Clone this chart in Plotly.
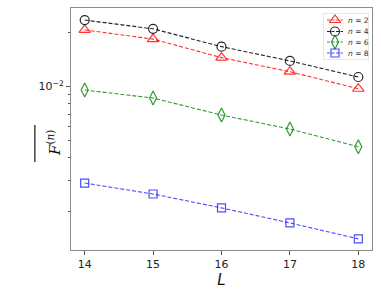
import plotly.graph_objects as go

L = [14, 15, 16, 17, 18]
f_n2 = [0.0207, 0.0184, 0.0145, 0.0121, 0.00972]
f_n4 = [0.0235, 0.0210, 0.0167, 0.0139, 0.0113]
f_n6 = [0.00956, 0.00862, 0.00693, 0.00579, 0.00461]
f_n8 = [0.00289, 0.00251, 0.00210, 0.00173, 0.00141]

series = [
    ("<i>n</i> = 2", f_n2, "rgba(255,0,0,0.8)", "triangle-up-open", 10),
    ("<i>n</i> = 4", f_n4, "rgba(0,0,0,0.85)", "circle-open", 9),
    ("<i>n</i> = 6", f_n6, "rgba(0,128,0,0.8)", "diamond-tall-open", 10),
    ("<i>n</i> = 8", f_n8, "rgba(0,0,255,0.7)", "square-open", 8),
]

fig = go.Figure()
for name, vals, col, sym, sz in series:
    fig.add_trace(go.Scatter(
        x=L, y=vals, name=name, mode="lines+markers", showlegend=False,
        line=dict(color=col, width=1.1, dash="4px,2px"),
        marker=dict(symbol=sym, size=sz, color=col, line=dict(color=col, width=1.2)),
    ))

# compact legend drawn in its own small pixel-scaled axes (legend box area)
leg_rows = [20, 31.5, 42, 53]
for (name, vals, col, sym, sz), ry in zip(series, leg_rows):
    fig.add_trace(go.Scatter(
        x=[327, 343], y=[ry, ry], mode="lines", xaxis="x2", yaxis="y2", showlegend=False,
        line=dict(color=col, width=1.1, dash="3px,1.5px"), hoverinfo="skip"))
    fig.add_trace(go.Scatter(
        x=[335], y=[ry], mode="markers", xaxis="x2", yaxis="y2", showlegend=False,
        marker=dict(symbol=sym, size=sz, color=col, line=dict(color=col, width=1.2)), hoverinfo="skip"))
    fig.add_annotation(text=name, xref="x2", yref="y2", x=346, y=ry, xanchor="left", yanchor="middle",
                       showarrow=False, font=dict(family="DejaVu Sans", size=7.5, color="#333"))

fig.add_shape(type="rect", xref="x2", yref="y2", x0=323, x1=369, y0=13, y1=60,
              line=dict(color="#d0d0d0", width=1), fillcolor="rgba(255,255,255,0.85)", layer="below")

axis_common = dict(
    showline=True, linecolor="#8c8c8c", linewidth=1, mirror=True,
    ticks="outside", ticklen=4, tickcolor="#555", showgrid=False, zeroline=False,
    automargin=False,
    tickfont=dict(family="DejaVu Sans", size=11, color="#222"),
)

fig.update_layout(
    width=381, height=300,
    margin=dict(l=71, r=9, t=8, b=50),
    paper_bgcolor="white", plot_bgcolor="white",
    xaxis=dict(range=[13.8, 18.2], tickvals=L, ticktext=[str(v) for v in L],
               title=dict(text="<i>L</i>", font=dict(family="DejaVu Sans", size=15, color="#111"), standoff=2),
               **axis_common),
    yaxis=dict(type="log", range=[-2.913, -1.5615],
               tickvals=[0.01], ticktext=["10<sup>−2</sup>"],
               minor=dict(tickvals=[0.002, 0.003, 0.004, 0.005, 0.006, 0.007, 0.008, 0.009, 0.02],
                          ticks="outside", ticklen=2.5, tickcolor="#555", showgrid=False),
               **axis_common),
    xaxis2=dict(domain=[(323 - 71) / 301, (369 - 71) / 301], range=[323, 369], anchor="y2",
                visible=False, fixedrange=True),
    yaxis2=dict(domain=[(250 - 60) / 242, (250 - 13) / 242], range=[60, 13], anchor="x2",
                visible=False, fixedrange=True),
    showlegend=False,
)

fig.add_annotation(
    text="<i>F</i><sup>(<i>n</i>)</sup>", textangle=-90,
    xref="paper", yref="paper", x=-0.098, y=0.44,
    showarrow=False, font=dict(family="DejaVu Serif", size=15, color="#111"),
)
fig.add_shape(type="line", xref="paper", yref="paper",
              x0=-0.12, x1=-0.12, y0=0.3636, y1=0.5165,
              line=dict(color="#111", width=1.2))

fig.write_html("out.html", config={"displayModeBar": False},
               post_script="document.body.style.margin='0';document.body.style.overflow='hidden';")
